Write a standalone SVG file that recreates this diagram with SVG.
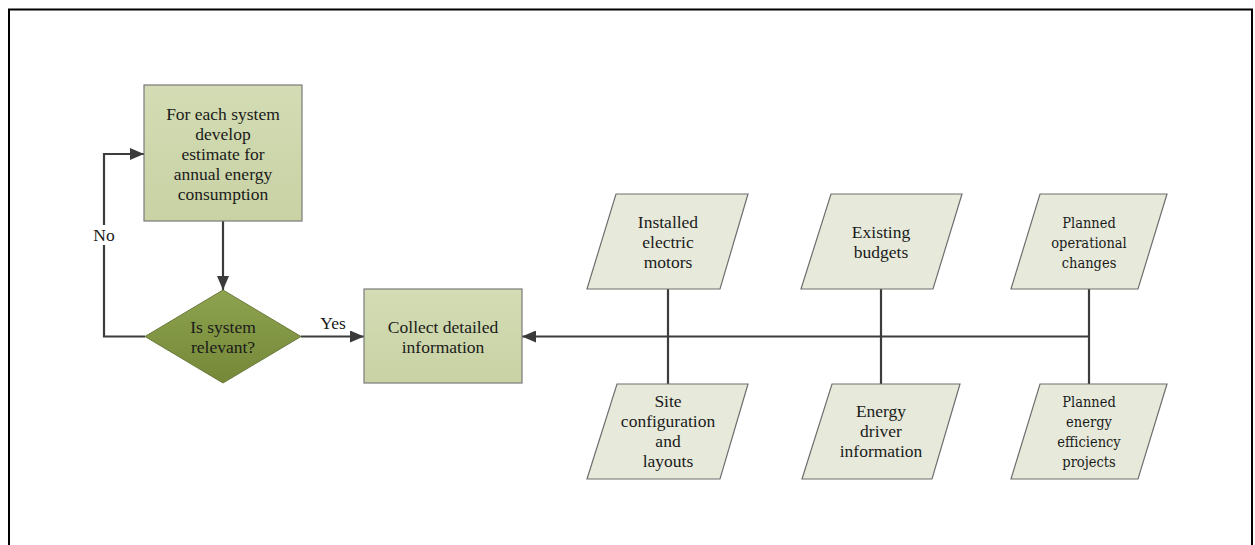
<svg xmlns="http://www.w3.org/2000/svg" width="1255" height="545" viewBox="0 0 1255 545">
  <defs>
    <linearGradient id="boxFill" x1="0" y1="0" x2="0" y2="1">
      <stop offset="0" stop-color="#d3dcb4"/>
      <stop offset="1" stop-color="#c8d2a4"/>
    </linearGradient>
    <linearGradient id="diamondFill" x1="0" y1="0" x2="0" y2="1">
      <stop offset="0" stop-color="#8ea34f"/>
      <stop offset="1" stop-color="#748838"/>
    </linearGradient>
    <marker id="arrow" viewBox="0 0 14 12" refX="14" refY="6" markerWidth="14" markerHeight="12" markerUnits="userSpaceOnUse" orient="auto">
      <path d="M0,0 L14,6 L0,12 Z" fill="#3a3a3a"/>
    </marker>
    <style>
      .frame { fill: #ffffff; stroke: #000000; stroke-width: 2; }
      .box { fill: url(#boxFill); stroke: #7a7a7a; stroke-width: 1.2; }
      .diamond { fill: url(#diamondFill); stroke: #6b7a3c; stroke-width: 1; }
      .data { fill: #e7eadb; stroke: #6e6e6e; stroke-width: 1.2; }
      .link { fill: none; stroke: #3c3c3c; stroke-width: 2.2; }
      .lbl { font-family: "Liberation Serif", "Times New Roman", serif; font-size: 17.5px; fill: #1a1a1a; text-anchor: middle; }
      .lbl2 { font-family: "DejaVu Serif", serif; font-stretch: condensed; font-size: 14.5px; fill: #1a1a1a; text-anchor: middle; }
      .edge { font-family: "Liberation Serif", "Times New Roman", serif; font-size: 17.5px; fill: #1a1a1a; text-anchor: middle; }
    </style>
  </defs>

  <!-- outer frame -->
  <rect class="frame" x="9" y="9.5" width="1243" height="545"/>

  <!-- connectors -->
  <g id="connectors">
    <path class="link" d="M223,221 V290" marker-end="url(#arrow)"/>
    <path class="link" d="M145,336.5 H104 V154 H144" marker-end="url(#arrow)"/>
    <path class="link" d="M301,336.5 H364" marker-end="url(#arrow)"/>
    <path class="link" d="M1089,336.5 H522" marker-end="url(#arrow)"/>
    <path class="link" d="M668,289 V384"/>
    <path class="link" d="M881,289 V384"/>
    <path class="link" d="M1089,289 V384"/>
    <rect x="90" y="225" width="28" height="20" fill="#ffffff"/>
    <text class="edge" x="104" y="241">No</text>
    <text class="edge" x="333" y="329">Yes</text>
  </g>

  <!-- process: estimate -->
  <g id="estimate">
    <rect class="box" x="144" y="85" width="158" height="136"/>
    <text class="lbl" x="223" y="120">For each system</text>
    <text class="lbl" x="223" y="140">develop</text>
    <text class="lbl" x="223" y="160">estimate for</text>
    <text class="lbl" x="223" y="180">annual energy</text>
    <text class="lbl" x="223" y="200">consumption</text>
  </g>

  <!-- decision -->
  <g id="relevant">
    <polygon class="diamond" points="223,290 301,336.5 223,383 145,336.5"/>
    <text class="lbl" x="223" y="333">Is system</text>
    <text class="lbl" x="223" y="353">relevant?</text>
  </g>

  <!-- process: collect -->
  <g id="collect">
    <rect class="box" x="364" y="289" width="158" height="94"/>
    <text class="lbl" x="443" y="333">Collect detailed</text>
    <text class="lbl" x="443" y="353">information</text>
  </g>

  <!-- data inputs, top row -->
  <g id="motors">
    <polygon class="data" points="616,194 748,194 720,289 587,289"/>
    <text class="lbl" x="668" y="228">Installed</text>
    <text class="lbl" x="668" y="248">electric</text>
    <text class="lbl" x="668" y="268">motors</text>
  </g>
  <g id="budgets">
    <polygon class="data" points="831,194 962,194 933,289 801,289"/>
    <text class="lbl" x="881" y="238">Existing</text>
    <text class="lbl" x="881" y="258">budgets</text>
  </g>
  <g id="operational">
    <polygon class="data" points="1040,194 1167,194 1138,289 1011,289"/>
    <text class="lbl2" x="1089" y="228">Planned</text>
    <text class="lbl2" x="1089" y="248">operational</text>
    <text class="lbl2" x="1089" y="268">changes</text>
  </g>

  <!-- data inputs, bottom row -->
  <g id="site">
    <polygon class="data" points="617,384 748,384 720,479 587,479"/>
    <text class="lbl" x="668" y="407">Site</text>
    <text class="lbl" x="668" y="427">configuration</text>
    <text class="lbl" x="668" y="447">and</text>
    <text class="lbl" x="668" y="467">layouts</text>
  </g>
  <g id="drivers">
    <polygon class="data" points="832,384 960,384 932,479 802,479"/>
    <text class="lbl" x="881" y="417">Energy</text>
    <text class="lbl" x="881" y="437">driver</text>
    <text class="lbl" x="881" y="457">information</text>
  </g>
  <g id="efficiency">
    <polygon class="data" points="1040,384 1167,384 1138,479 1011,479"/>
    <text class="lbl2" x="1089" y="407">Planned</text>
    <text class="lbl2" x="1089" y="427">energy</text>
    <text class="lbl2" x="1089" y="447">efficiency</text>
    <text class="lbl2" x="1089" y="467">projects</text>
  </g>
</svg>
